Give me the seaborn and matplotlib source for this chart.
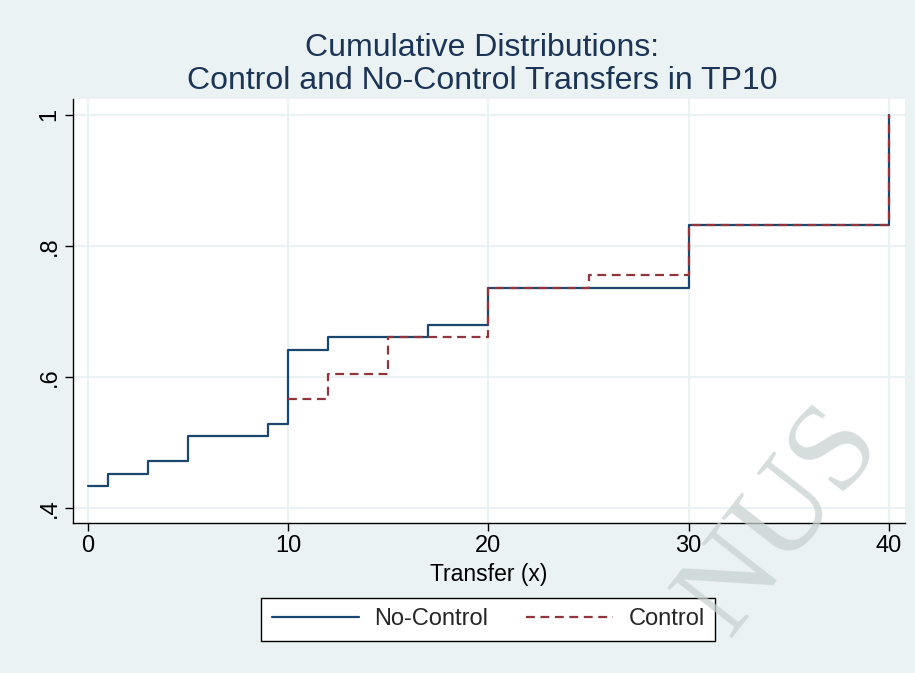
import pandas as pd
import matplotlib.pyplot as plt
import seaborn as sns

# step points
nc_x = [0, 1, 3, 5, 9, 10, 12, 17, 20, 30, 40]
nc_y = [0.434, 0.452, 0.472, 0.510, 0.528, 0.641, 0.661, 0.679, 0.736, 0.831, 1.0]
ctl_x = [10, 12, 15, 20, 25, 30, 40]
ctl_y = [0.566, 0.605, 0.661, 0.736, 0.756, 0.831, 1.0]
x_ticks = [0, 10, 20, 30, 40]
y_ticks = [0.4, 0.6, 0.8, 1.0]
y_labels = [".4", ".6", ".8", "1"]

bg = "#EAF2F3"
navy = "#1A476F"
maroon = "#90353B"

sns.set_theme(style="white")
plt.rcParams["font.family"] = ["Liberation Sans", "DejaVu Sans"]

df = pd.concat([
    pd.DataFrame({"x": nc_x, "y": nc_y, "grp": "No-Control"}),
    pd.DataFrame({"x": ctl_x, "y": ctl_y, "grp": "Control"}),
])

fig = plt.figure(figsize=(9.15, 6.73), dpi=100, facecolor=bg)
ax = fig.add_axes([0.0798, 0.2229, 0.9092, 0.6301])
ax.set_facecolor("white")

sns.lineplot(data=df[df.grp == "No-Control"], x="x", y="y", ax=ax,
             color=navy, linewidth=1.6, drawstyle="steps-post", label="No-Control")
sns.lineplot(data=df[df.grp == "Control"], x="x", y="y", ax=ax,
             color=maroon, linewidth=1.6, linestyle=(0, (4, 2.5)),
             drawstyle="steps-post", label="Control")

ax.set_xlim(-0.75, 40.8)
ax.set_ylim(0.377, 1.024)
ax.set_xticks(x_ticks)
ax.set_yticks(y_ticks)
ax.set_yticklabels(y_labels, rotation=90, va="center")
ax.grid(True, color=bg, linewidth=1.5)
ax.set_axisbelow(True)
for s in ["top", "right"]:
    ax.spines[s].set_visible(False)
for s in ["left", "bottom"]:
    ax.spines[s].set_color("black")
    ax.spines[s].set_linewidth(1.0)
ax.tick_params(axis="both", which="major", direction="out", length=6, width=1,
               color="black", labelsize=17, labelcolor="black", pad=3,
               bottom=True, left=True)
ax.set_xlabel("Transfer (x)", fontsize=16.5, color="black", labelpad=4)
ax.set_ylabel("")

fig.text(0.527, 0.904, "Cumulative Distributions:\nControl and No-Control Transfers in TP10",
         ha="center", va="center", fontsize=23, color="#1C3557", linespacing=1.12)

leg = ax.legend(loc="upper center", bbox_to_anchor=(0.499, -0.148), ncol=2,
                frameon=True, fancybox=False, fontsize=17, handlelength=3.7,
                columnspacing=1.6, borderpad=0.45, handletextpad=0.64, framealpha=1)
leg.get_frame().set_edgecolor("black")
leg.get_frame().set_linewidth(1.0)
leg.get_frame().set_facecolor("white")

# watermark
fig.text(0.855, 0.225, "NUS", fontsize=90, family="Liberation Serif", color="#C9D2D2",
         alpha=0.75, rotation=52, ha="center", va="center", zorder=10)

fig.savefig("out.png", dpi=100, facecolor=bg)
